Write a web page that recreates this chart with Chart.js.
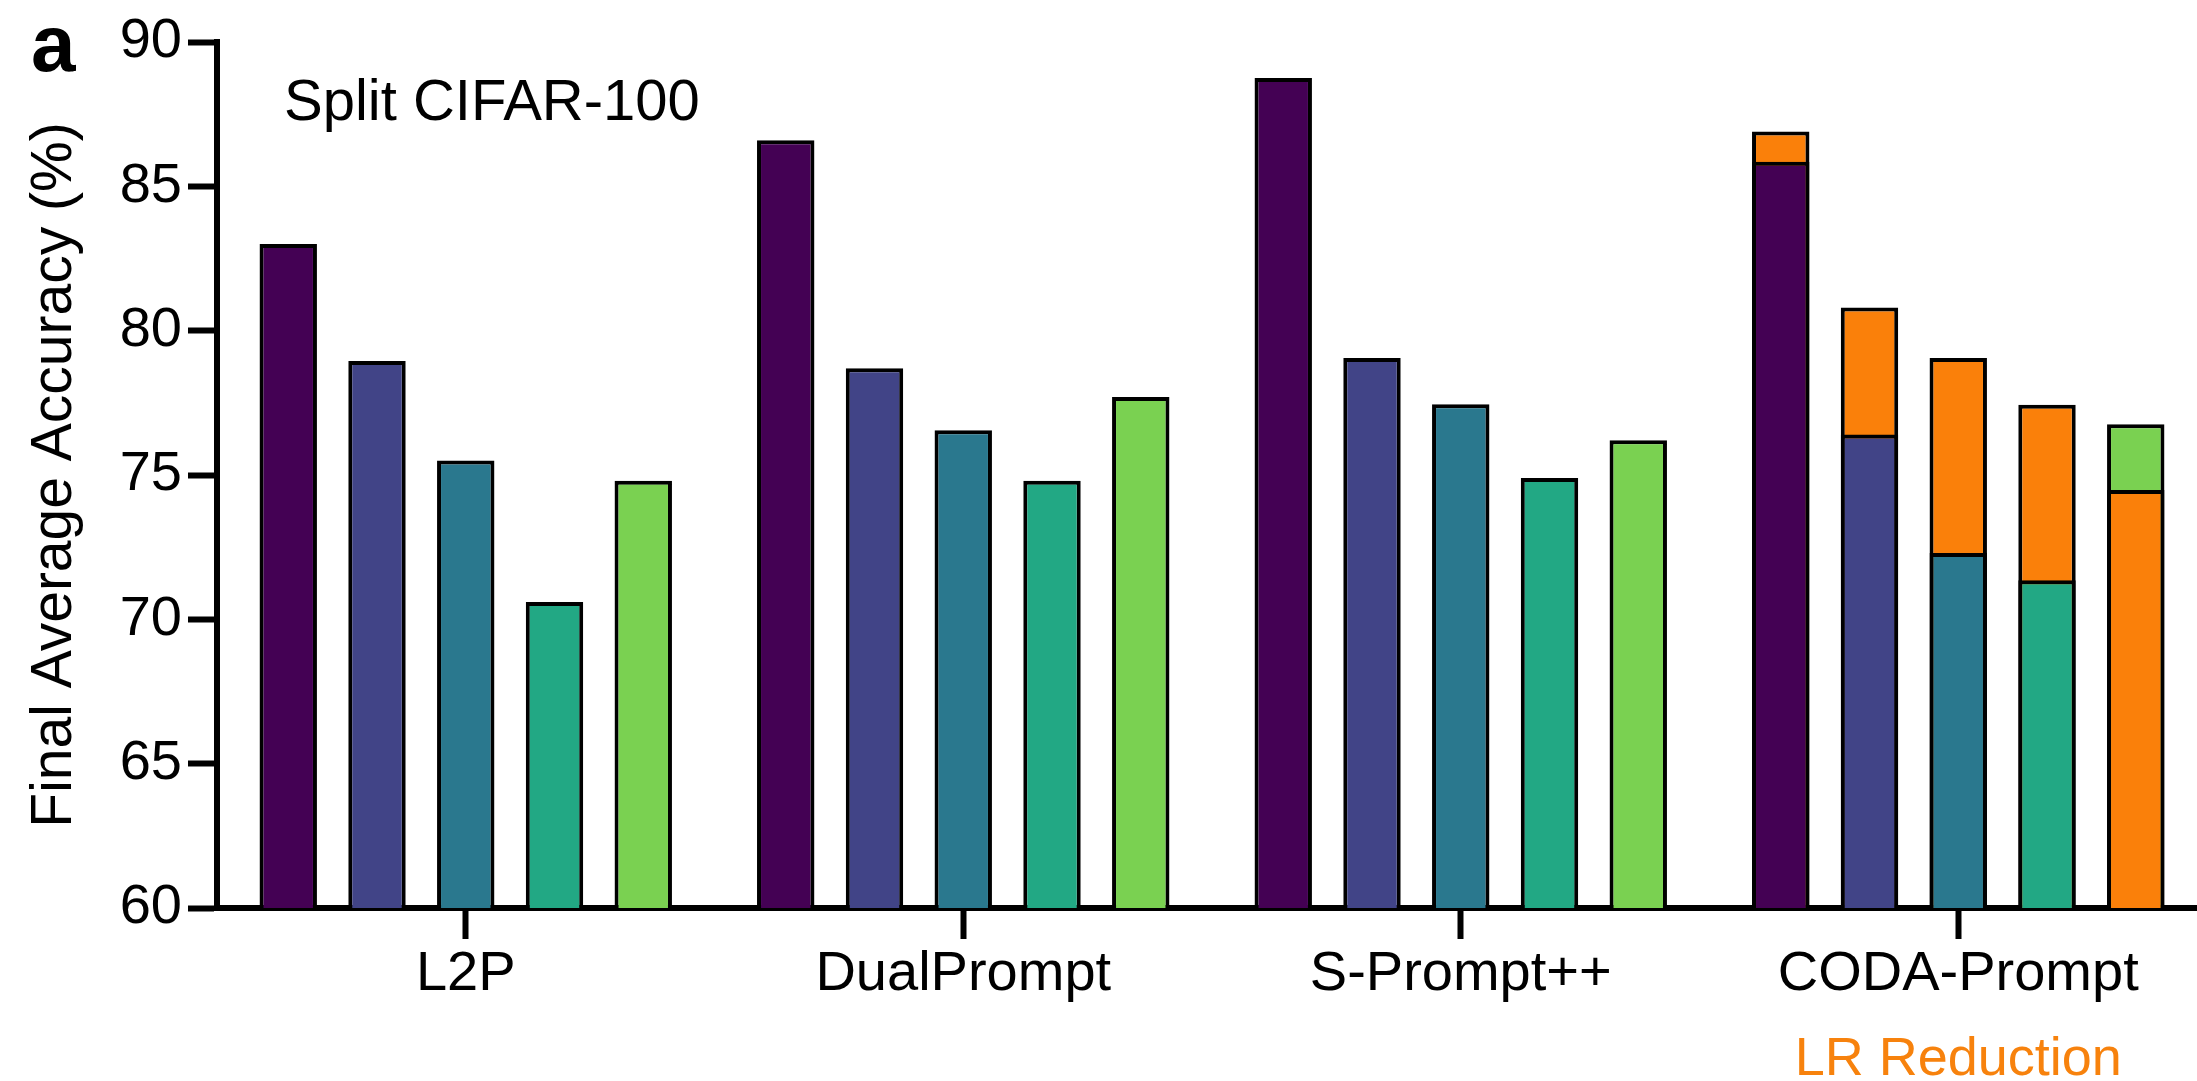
<!DOCTYPE html>
<html lang="en">

<head>
    <meta charset="UTF-8">
    <title>Split CIFAR-100</title>
    <script src="https://cdn.jsdelivr.net/npm/chart.js"></script>
    <style>
        body { margin: 0; background: #fff; overflow: hidden; }
        /* un poco mas ancho que la ventana: el eje x sigue hasta el borde */
        #wrap { width: 2207px; height: 1081px; }
    </style>
</head>

<body>

    <div id="wrap">
        <canvas id="myChart"></canvas>
    </div>

    <script>
        // datos
        const methods = ['L2P', 'DualPrompt', 'S-Prompt++', 'CODA-Prompt'];
        const yTicks = [60, 65, 70, 75, 80, 85, 90];

        // una serie por configuracion (colores viridis), un valor por metodo
        const config1 = [83.0, 86.6, 88.75, 85.85];
        const config2 = [78.95, 78.7, 79.05, 76.4];
        const config3 = [75.5, 76.55, 77.45, 72.3];
        const config4 = [70.6, 74.8, 74.9, 71.35];
        const config5 = [74.8, 77.7, 76.2, 76.76];

        // CODA-Prompt con reduccion de learning rate
        const lrReduction = [86.9, 80.8, 79.05, 77.43, 74.48];

        const configColors = ['#440154', '#414487', '#2a788e', '#22a884', '#7ad151'];
        const orange = '#fa800a';

        Chart.defaults.font.family = "'Liberation Sans', Arial, Helvetica, sans-serif";
        Chart.defaults.color = '#000';

        const configs = [config1, config2, config3, config4, config5];
        const datasets = [];

        configs.forEach((values, i) => {
            const lr = lrReduction[i];
            const base = values[values.length - 1];
            // la barra mas corta se dibuja delante
            const baseInFront = base < lr;
            datasets.push({
                label: 'Config ' + (i + 1),
                data: values,
                stack: 'g' + i,
                order: baseInFront ? 0 : 1,
                backgroundColor: configColors[i],
                borderColor: '#000',
                borderWidth: 4
            });
            datasets.push({
                label: 'LR Reduction ' + (i + 1),
                data: methods.map((m, j) => j === methods.length - 1 ? lr : null),
                stack: 'g' + i,
                order: baseInFront ? 1 : 0,
                backgroundColor: orange,
                borderColor: '#000',
                borderWidth: 4
            });
        });

        const extraText = {
            id: 'extraText',
            afterDraw(chart) {
                const c = chart.ctx;
                const xs = chart.scales.x;
                c.save();
                c.fillStyle = '#000';
                c.textAlign = 'left';
                c.textBaseline = 'alphabetic';
                c.font = "bold 80px 'Liberation Sans', Arial, sans-serif";
                c.fillText('a', 31, 71);
                c.font = "58px 'Liberation Sans', Arial, sans-serif";
                c.fillText('Split CIFAR-100', 284, 120);
                c.fillStyle = '#f7820d';
                c.textAlign = 'center';
                c.font = "54px 'Liberation Sans', Arial, sans-serif";
                c.fillText('LR Reduction', xs.getPixelForValue(methods.length - 1), 1075);
                c.restore();
            }
        };

        new Chart(document.getElementById('myChart'), {
            type: 'bar',
            data: {
                labels: methods,
                datasets: datasets
            },
            options: {
                responsive: true,
                maintainAspectRatio: false,
                animation: false,
                layout: {
                    padding: { top: 42, right: 0, left: 0, bottom: 0 }
                },
                datasets: {
                    bar: {
                        barPercentage: 0.647,
                        categoryPercentage: 0.892
                    }
                },
                plugins: {
                    legend: { display: false },
                    tooltip: { enabled: false }
                },
                scales: {
                    x: {
                        stacked: true,
                        z: 1,
                        grid: {
                            offset: false,
                            drawOnChartArea: false,
                            tickLength: 31,
                            tickWidth: 6,
                            tickColor: '#000'
                        },
                        border: { color: '#000', width: 6 },
                        ticks: {
                            font: { size: 56 },
                            color: '#000',
                            padding: 2,
                            maxRotation: 0
                        },
                        afterFit: (scale) => { scale.height = 1081 - 908; }
                    },
                    y: {
                        stacked: false,
                        min: yTicks[0],
                        max: yTicks[yTicks.length - 1],
                        z: 1,
                        afterBuildTicks: (scale) => {
                            scale.ticks = yTicks.map(v => ({ value: v }));
                        },
                        grid: {
                            drawOnChartArea: false,
                            tickLength: 29,
                            tickWidth: 6,
                            tickColor: '#000'
                        },
                        border: { color: '#000', width: 6 },
                        ticks: {
                            font: { size: 56 },
                            color: '#000',
                            padding: 6
                        },
                        title: {
                            display: true,
                            text: 'Final Average Accuracy (%)',
                            font: { size: 57 },
                            color: '#000',
                            padding: { top: 21, bottom: 0 }
                        },
                        afterFit: (scale) => { scale.width = 217; }
                    }
                }
            },
            plugins: [extraText]
        });
    </script>
</body>

</html>
